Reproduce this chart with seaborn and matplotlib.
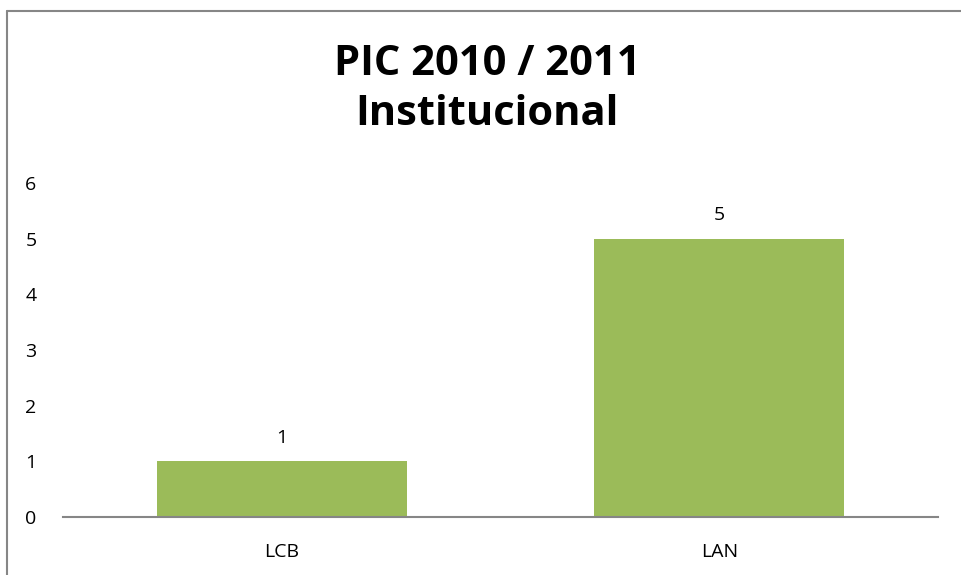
import matplotlib
matplotlib.use("Agg")
import matplotlib.pyplot as plt
from matplotlib.lines import Line2D
import seaborn as sns
import pandas as pd

categories = ["LCB", "LAN"]
values = [1, 5]
title_lines = ["PIC 2010 / 2011", "Institucional"]
yticks = [0, 1, 2, 3, 4, 5, 6]

sns.set_theme(style="white")
plt.rcParams['font.family'] = ['Open Sans', 'DejaVu Sans']
plt.rcParams['text.color'] = 'black'
plt.rcParams['xtick.color'] = 'black'
plt.rcParams['ytick.color'] = 'black'

df = pd.DataFrame({"cat": categories, "val": values})

fig = plt.figure(figsize=(9.62, 5.75), dpi=100)
ax = fig.add_axes([63/962, 1-517/575, (938-63)/962, (517-183)/575])
sns.barplot(data=df, x="cat", y="val", color="#9BBB59", saturation=1,
            width=0.571, ax=ax)
for p in ax.patches:
    p.set_edgecolor("none")

ax.set_ylim(0, 6)
ax.set_xlim(-0.5, 1.5)
ax.set_yticks(yticks)
ax.set_yticklabels([str(t) for t in yticks], fontsize=14)
ax.tick_params(axis='x', labelsize=14, length=0, pad=19)
ax.tick_params(axis='y', length=0, pad=19)
ax.set_xlabel("")
ax.set_ylabel("")
for s in ["top", "right", "left"]:
    ax.spines[s].set_visible(False)
ax.spines["bottom"].set_color("#868686")
ax.spines["bottom"].set_linewidth(1.5)

for i, v in enumerate(values):
    ax.annotate(str(v), (i, v), xytext=(0, 13.5), textcoords="offset points",
                ha="center", va="baseline", fontsize=14, color="black")

fig.text(487/962, 1-75/575, title_lines[0], ha="center", va="baseline",
         fontsize=30, fontweight="bold", color="black")
fig.text(487/962, 1-125/575, title_lines[1], ha="center", va="baseline",
         fontsize=30, fontweight="bold", color="black")

fig.add_artist(Line2D([7.5/962, 1], [1-11/575, 1-11/575], color="#868686", lw=1.5,
                      transform=fig.transFigure))
fig.add_artist(Line2D([7.5/962, 7.5/962], [0, 1-11/575], color="#868686", lw=1.5,
                      transform=fig.transFigure))

fig.savefig("out.png", dpi=100)
